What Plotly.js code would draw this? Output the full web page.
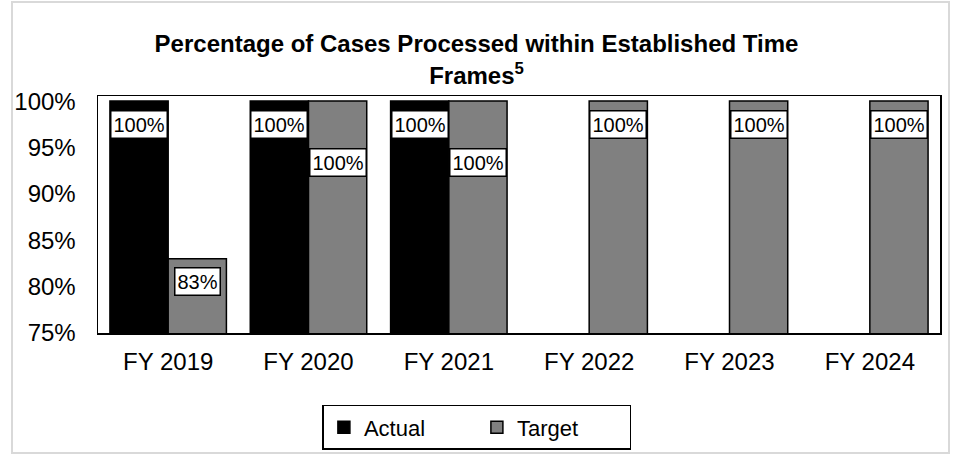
<!DOCTYPE html>
<html>
<head>
<meta charset="utf-8">
<script src="https://cdn.plot.ly/plotly-3.0.1.min.js"></script>
<style>
html,body{margin:0;padding:0;background:#fff;}
#chart{position:absolute;left:0;top:0;width:953px;height:456px;}
#frame{position:absolute;left:11px;top:1px;width:935px;height:449px;border:2px solid #d9d9d9;pointer-events:none;}
</style>
</head>
<body>
<div id="chart"></div>
<div id="frame"></div>
<script>
var categories = ["FY 2019", "FY 2020", "FY 2021", "FY 2022", "FY 2023", "FY 2024"];
var actual = [100, 100, 100, null, null, null];
var target = [83, 100, 100, 100, 100, 100];
var actualLabels = ["100%", "100%", "100%", null, null, null];
var targetLabels = ["83%", "100%", "100%", "100%", "100%", "100%"];
var yTicks = [75, 80, 85, 90, 95, 100];
var yTickLabels = ["75%", "80%", "85%", "90%", "95%", "100%"];

var bargap = 0.17;
var half = (1 - bargap) / 4;
var FONT = "Liberation Sans, Arial, sans-serif";

var traces = [
  {type: "bar", name: "Actual", x: categories, y: actual,
   marker: {color: "#000000", line: {color: "#000000", width: 1.5}}, hoverinfo: "skip"},
  {type: "bar", name: "Target", x: categories, y: target,
   marker: {color: "#808080", line: {color: "#000000", width: 1.5}}, hoverinfo: "skip"}
];

var annotations = [];
function addLabels(vals, labels, sign, shiftFn) {
  for (var i = 0; i < vals.length; i++) {
    if (vals[i] === null) continue;
    annotations.push({
      x: i + sign * half, y: vals[i], xref: "x", yref: "y",
      text: labels[i], showarrow: false, yanchor: "middle",
      yshift: shiftFn(i),
      font: {family: FONT, size: 20, color: "#000"},
      bgcolor: "#ffffff", bordercolor: "#000000", borderwidth: 1.5, borderpad: 2
    });
  }
}
addLabels(actual, actualLabels, -1, function(i){ return -23; });
addLabels(target, targetLabels, 1, function(i){
  return (actual[i] !== null && target[i] === actual[i]) ? -61 : -23;
});

var layout = {
  width: 953, height: 456,
  margin: {l: 98, r: 13, t: 96, b: 123},
  paper_bgcolor: "#ffffff", plot_bgcolor: "#ffffff",
  font: {family: FONT, size: 24, color: "#000"},
  title: {text: "<b>Percentage of Cases Processed within Established Time<br>Frames<sup>5</sup></b>",
          font: {family: FONT, size: 24, color: "#000"}, x: 0.5, xref: "container", xanchor: "center",
          y: 0.885, yref: "container", yanchor: "top"},
  barmode: "group", bargap: bargap, bargroupgap: 0,
  showlegend: true,
  legend: {orientation: "h", x: 0.45, xanchor: "center", y: 0.112, yref: "container", yanchor: "top",
           bordercolor: "#000000", borderwidth: 1.5, font: {family: FONT, size: 22},
           entrywidth: 108, itemclick: false, itemwidth: 30},
  xaxis: {type: "category", showline: true, mirror: true, linecolor: "#000", linewidth: 1.5,
          ticks: "", showgrid: false, ticklabelstandoff: 7, tickfont: {family: FONT, size: 24}},
  yaxis: {range: [75, 100.55], tickmode: "array", tickvals: yTicks, ticktext: yTickLabels,
          showline: true, mirror: true,
          linecolor: "#000", linewidth: 1.5, ticks: "", showgrid: false, zeroline: false,
          ticklabelstandoff: 16, tickfont: {family: FONT, size: 24}},
  annotations: annotations
};

Plotly.newPlot("chart", traces, layout, {staticPlot: true, displayModeBar: false});
</script>
</body>
</html>
